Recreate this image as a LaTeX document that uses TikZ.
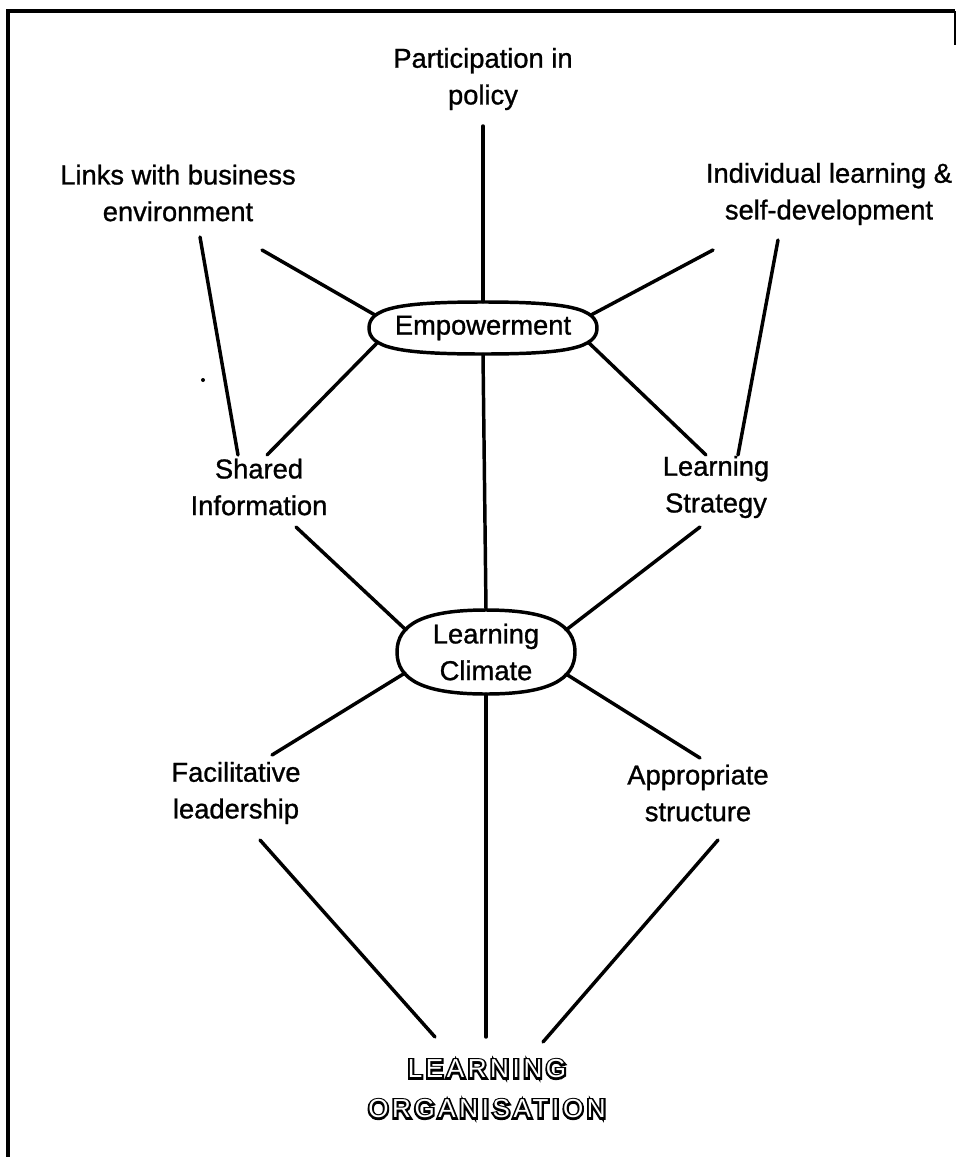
\documentclass[tikz,border=0pt]{standalone}
\usepackage{fontspec}
\setmainfont{Liberation Sans}[RawFeature={embolden=1.0}]
\newfontfamily\outlinefont[LetterSpace=14]{Liberation Sans}
\usetikzlibrary{shapes.misc}

% black fill-and-stroke lettering, laid under a white copy to give outlined capitals
\newcommand{\strokedtext}[1]{\special{pdf:literal direct 2 Tr 2.9 w}#1\special{pdf:literal direct 0 Tr}}

\begin{document}
\begin{tikzpicture}[x=0.75pt,y=-0.75pt,
  lbl/.style={align=center,font=\fontsize{20.5}{27.5}\selectfont,inner sep=0pt},
  hub/.style={lbl},
  hubline/.style={line width=2.6pt},
  link/.style={line width=2.6pt,line cap=round},
  frame/.style={line width=2.6pt},
  orgtext/.style={align=center,inner sep=0pt,font=\outlinefont\fontsize{19.5}{30}\selectfont}]

\useasboundingbox[fill=white] (0,0) rectangle (960,1157);

% page frame
\draw[frame] (8,1157) -- (8,11) -- (955,11);
\draw[line width=1.4pt] (955,11) -- (955,45);
\fill (203,380) circle (2);

% hubs: labels, then their rounded outlines
\node[hub,minimum width=171pt,minimum height=39pt] (emp) at (483,328) {Empowerment};
\node[hub,minimum width=133.5pt,minimum height=63pt] (clim) at (486,652) {Learning\\Climate};
\begin{scope}[shift={(emp.center)}]
  \draw[hubline] (-114,0) .. controls (-114,-19.5) and (-85.5,-26) .. (0,-26)
    .. controls (85.5,-26) and (114,-19.5) .. (114,0)
    .. controls (114,19.5) and (85.5,26) .. (0,26)
    .. controls (-85.5,26) and (-114,19.5) .. (-114,0) -- cycle;
\end{scope}
\begin{scope}[shift={(clim.center)}]
  \draw[hubline] (-89,0) .. controls (-89,-28) and (-62,-42) .. (0,-42)
    .. controls (62,-42) and (89,-28) .. (89,0)
    .. controls (89,28) and (62,42) .. (0,42)
    .. controls (-62,42) and (-89,28) .. (-89,0) -- cycle;
\end{scope}

% factors
\node[lbl] (part)   at (483,79)  {Participation in\\policy};
\node[lbl] (links)  at (178,193) {Links with business\\environment};
\node[lbl] (indiv)  at (829,194) {Individual learning \&\\self-development};
\node[lbl] (shared) at (259,487) {Shared\\Information};
\node[lbl] (strat)  at (716,487) {Learning\\Strategy};
\node[lbl] (facil)  at (236,793) {Facilitative\\leadership};
\node[lbl] (approp) at (698,793) {Appropriate\\structure};

% outlined title
\node[orgtext] (org) at (487,1089) {\strokedtext{LEARNING\\ORGANISATION}};
\node[orgtext,text=white] (orgface) at (org.center) {LEARNING\\ORGANISATION};

% connectors
\draw[link] ([shift={(0,47)}]part.center) -- (emp.north);
\draw[link] ([shift={(84,57)}]links.center) -- ([shift={(-108,-13)}]emp.center);
\draw[link] ([shift={(22,44)}]links.center) -- ([shift={(-21,-32)}]shared.center);
\draw[link] ([shift={(-116,56)}]indiv.center) -- ([shift={(108,-13)}]emp.center);
\draw[link] ([shift={(-51,46)}]indiv.center) -- ([shift={(22,-32)}]strat.center);
\draw[link] ([shift={(-105,14)}]emp.center) -- ([shift={(8,-32)}]shared.center);
\draw[link] ([shift={(105,14)}]emp.center) -- ([shift={(-10,-32)}]strat.center);
\draw[link] (emp.south) -- (clim.north);
\draw[link] ([shift={(37,40)}]shared.center) -- ([shift={(-80,-22)}]clim.center);
\draw[link] ([shift={(-16,40)}]strat.center) -- ([shift={(80,-22)}]clim.center);
\draw[link] ([shift={(-81,21)}]clim.center) -- ([shift={(36,-38)}]facil.center);
\draw[link] ([shift={(80,22)}]clim.center) -- ([shift={(2,-35)}]approp.center);
\draw[link] (clim.south) -- ([shift={(-1,-52)}]org.center);
\draw[link] ([shift={(24,47)}]facil.center) -- ([shift={(-52,-52)}]org.center);
\draw[link] ([shift={(20,47)}]approp.center) -- ([shift={(56,-47)}]org.center);
\end{tikzpicture}
\end{document}
